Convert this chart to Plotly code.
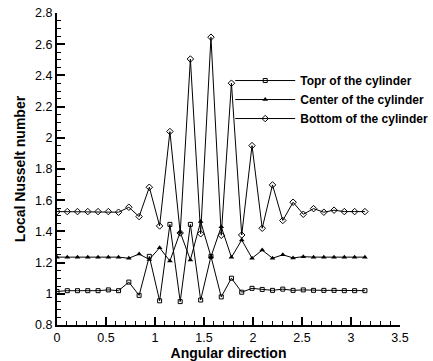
import plotly.graph_objects as go

angle = [0.000, 0.105, 0.209, 0.314, 0.419, 0.524, 0.628, 0.733, 0.838, 0.942,
         1.047, 1.152, 1.257, 1.361, 1.466, 1.571, 1.676, 1.780, 1.885, 1.990,
         2.094, 2.199, 2.304, 2.409, 2.513, 2.618, 2.723, 2.827, 2.932, 3.037, 3.142]

top_nu = [1.015, 1.02, 1.02, 1.02, 1.02, 1.025, 1.02, 1.075, 0.99, 1.24,
          0.955, 1.445, 0.95, 1.445, 0.96, 1.24, 0.98, 1.10, 1.01, 1.035,
          1.028, 1.022, 1.03, 1.022, 1.025, 1.022, 1.022, 1.022, 1.02, 1.02, 1.02]

center_nu = [1.235, 1.235, 1.235, 1.235, 1.235, 1.235, 1.235, 1.228, 1.255, 1.22,
             1.295, 1.21, 1.395, 1.217, 1.463, 1.238, 1.43, 1.234, 1.345, 1.228,
             1.28, 1.228, 1.25, 1.23, 1.238, 1.235, 1.235, 1.235, 1.235, 1.235, 1.235]

bottom_nu = [1.527, 1.527, 1.527, 1.527, 1.527, 1.527, 1.523, 1.555, 1.495, 1.683,
             1.435, 2.04, 1.39, 2.505, 1.385, 2.645, 1.375, 2.35, 1.377, 1.95,
             1.42, 1.698, 1.47, 1.587, 1.51, 1.546, 1.523, 1.536, 1.527, 1.527, 1.527]

names = ["Topr of the cylinder", "Center of the cylinder", "Bottom of the cylinder"]

fig = go.Figure()
fig.add_trace(go.Scatter(x=angle, y=top_nu, name=names[0], mode="lines+markers",
                         line=dict(color="black", width=1),
                         marker=dict(symbol="square-open", size=4, color="black",
                                     line=dict(width=1, color="black"))))
fig.add_trace(go.Scatter(x=angle, y=center_nu, name=names[1], mode="lines+markers",
                         line=dict(color="black", width=1),
                         marker=dict(symbol="triangle-up", size=5, color="black")))
fig.add_trace(go.Scatter(x=angle, y=bottom_nu, name=names[2], mode="lines+markers",
                         line=dict(color="black", width=1),
                         marker=dict(symbol="diamond-open", size=5, color="black",
                                     line=dict(width=1, color="black"))))

axis_font = dict(family="Liberation Sans, Arial, sans-serif", size=12.5, color="black")
title_font = dict(family="Liberation Sans, Arial, sans-serif", size=14, color="black", weight="bold")

fig.update_layout(
    width=433, height=361,
    margin=dict(l=57, r=33, t=13, b=36, autoexpand=False),
    paper_bgcolor="white", plot_bgcolor="white",
    font=axis_font,
    showlegend=True,
    legend=dict(x=0.505, y=0.83, xanchor="left", yanchor="top",
                bgcolor="rgba(0,0,0,0)", tracegroupgap=0,
                font=dict(family="Liberation Sans, Arial, sans-serif", size=12,
                          color="black", weight="bold"),
                itemwidth=60),
    xaxis=dict(range=[0, 3.5], dtick=0.5, tick0=0, showgrid=False, zeroline=False,
               showline=True, linecolor="black", linewidth=2, automargin=False,
               ticks="inside", ticklen=8, tickwidth=1.5, tickcolor="black",
               minor=dict(dtick=0.1, ticks="inside", ticklen=4, tickwidth=1, tickcolor="black"),
               tickfont=axis_font,
               title=dict(text="Angular direction", font=title_font, standoff=3)),
    yaxis=dict(range=[0.8, 2.8], dtick=0.2, tick0=0.8, showgrid=False, zeroline=False,
               showline=True, linecolor="black", linewidth=2, automargin=False,
               ticks="inside", ticklen=8, tickwidth=1.5, tickcolor="black",
               minor=dict(dtick=0.05, ticks="inside", ticklen=4, tickwidth=1, tickcolor="black"),
               tickfont=axis_font,
               title=dict(text="Local Nusselt number", font=title_font, standoff=6)),
)

fig.write_html("out.html")
